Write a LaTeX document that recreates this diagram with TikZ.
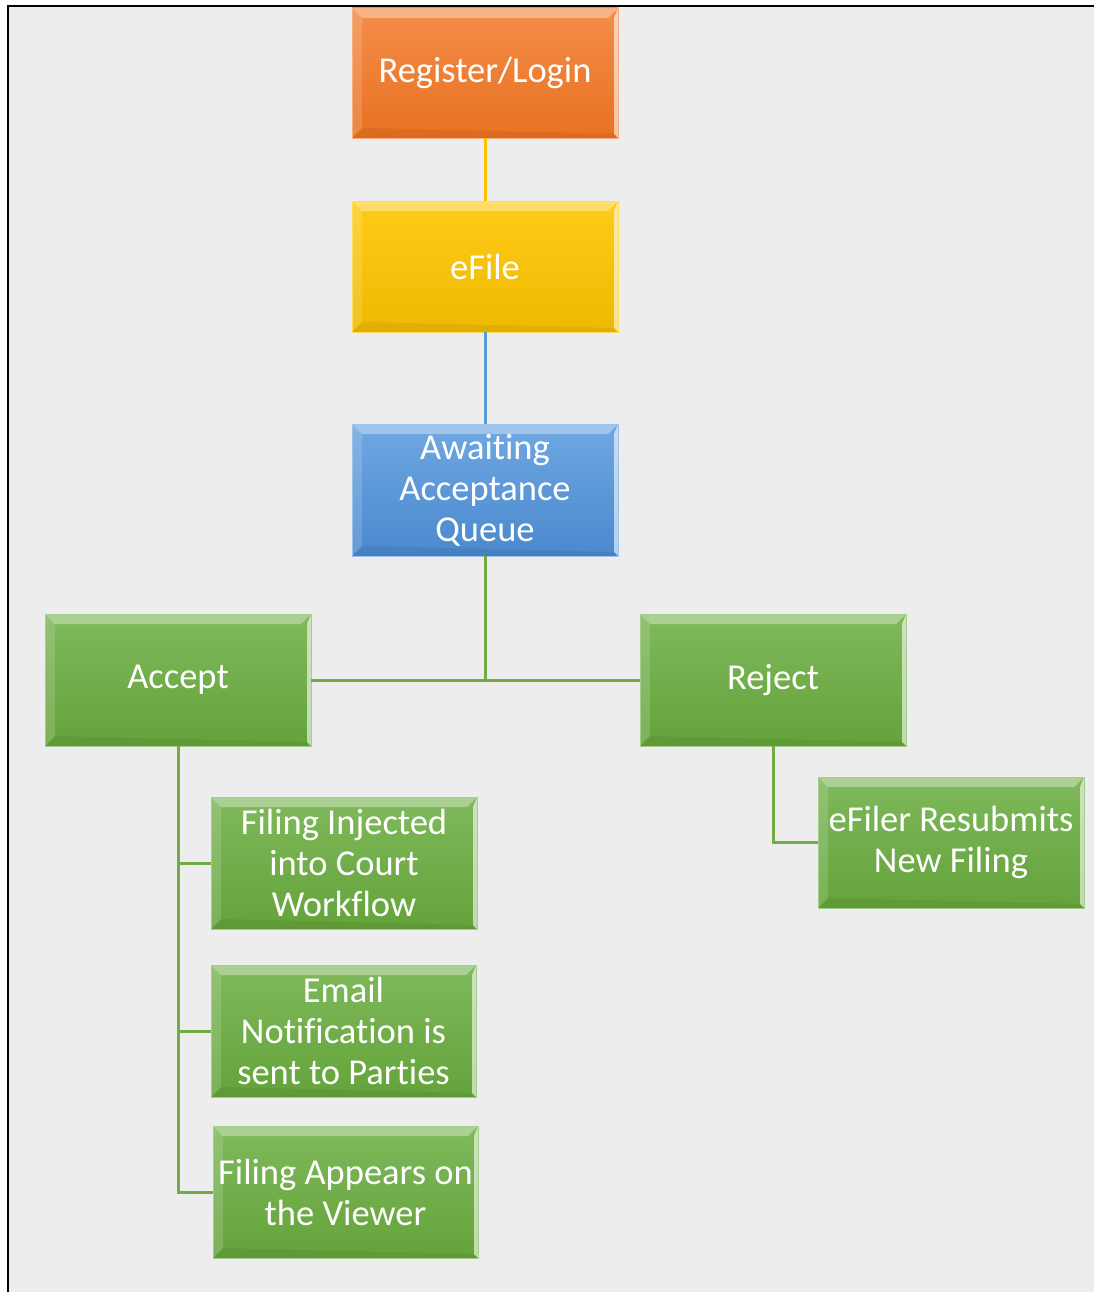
\documentclass[tikz,border=0pt]{standalone}
\usepackage{fontspec}
\setmainfont[Ligatures={NoCommon}]{Carlito}
\usetikzlibrary{calc}
\definecolor{bgc}{HTML}{EDEDED}
\definecolor{orT}{HTML}{F38D4A}\definecolor{orB}{HTML}{E97121}
\definecolor{yeT}{HTML}{FFCB1A}\definecolor{yeB}{HTML}{EDB900}
\definecolor{blT}{HTML}{6FA8E2}\definecolor{blB}{HTML}{4A89CE}
\definecolor{grT}{HTML}{7FB95C}\definecolor{grB}{HTML}{64A33A}
\definecolor{lnY}{HTML}{FFC000}\definecolor{lnB}{HTML}{5B9BD5}\definecolor{lnG}{HTML}{70AD47}
\tikzset{
  bev/.style={minimum width=266pt, minimum height=131pt, inner sep=0pt, text=white,
    align=center, font=\fontsize{36.5}{41}\selectfont,
    path picture={
      \coordinate (nw) at (path picture bounding box.north west);
      \coordinate (ne) at (path picture bounding box.north east);
      \coordinate (sw) at (path picture bounding box.south west);
      \coordinate (se) at (path picture bounding box.south east);
      \fill[white,opacity=.35] (nw) -- (ne) -- ([xshift=-10pt,yshift=-10pt]ne) -- ([xshift=10pt,yshift=-10pt]nw) -- cycle;
      \fill[white,opacity=.15] (nw) -- ([xshift=10pt,yshift=-10pt]nw) -- ([xshift=10pt,yshift=10pt]sw) -- (sw) -- cycle;
      \fill[black,opacity=.06] (sw) -- (se) -- ([xshift=-4pt,yshift=4pt]se) -- ([xshift=10pt,yshift=10pt]sw) -- cycle;
      \fill[white,opacity=.6] (ne) -- (se) -- ([xshift=-4pt,yshift=4pt]se) -- ([xshift=-4pt,yshift=-10pt]ne) -- cycle;
    }},
  orbox/.style={bev, top color=orT, bottom color=orB, draw=orT!70!white, line width=0.6pt},
  yebox/.style={bev, top color=yeT, bottom color=yeB, draw=yeT!70!white, line width=0.6pt},
  blbox/.style={bev, top color=blT, bottom color=blB, draw=blT!70!white, line width=0.6pt},
  grbox/.style={bev, top color=grT, bottom color=grB, draw=grT!70!white, line width=0.6pt},
  conn/.style={line width=3pt},
}
\begin{document}
\begin{tikzpicture}[x=1pt,y=-1pt]
\useasboundingbox (0,0) rectangle (1094,1292);
\fill[bgc] (8,6) rectangle (1094,1292);
\draw[line width=2pt, black] (8,1292) -- (8,6) -- (1094,6);

\node[orbox, minimum height=130pt] (reg) at (485,73) {Register/Login};
\node[yebox] (efile) at (485,266.5) {eFile};
\node[blbox, minimum height=132pt] (await) at (485,490) {Awaiting\\Acceptance\\Queue};
\node[grbox, minimum height=132pt] (accept) at (178,680) {Accept};
\node[grbox, minimum height=132pt] (reject) at (773,680) {Reject};
\node[grbox, minimum height=132pt] (inj) at (344,863) {Filing Injected\\into Court\\Workflow};
\node[grbox, minimum width=265pt, minimum height=132pt] (email) at (343.5,1031) {Email\\Notification is\\sent to Parties};
\node[grbox, minimum width=265pt, minimum height=132pt] (appear) at (345.5,1192) {Filing Appears on\\the Viewer};
\node[grbox] (resub) at (951,842.5) {eFiler Resubmits\\New Filing};

\draw[conn, lnY] (reg.south) -- (efile.north);
\draw[conn, lnB] (efile.south) -- (await.north);
\draw[conn, lnG] (await.south) -- (await.south |- accept.east);
\draw[conn, lnG] (accept.east) -- (reject.west);
\draw[conn, lnG] (accept.south) |- (appear.west);
\draw[conn, lnG] (accept.south |- inj.west) -- (inj.west);
\draw[conn, lnG] (accept.south |- email.west) -- (email.west);
\draw[conn, lnG] (reject.south) |- (resub.west);
\end{tikzpicture}
\end{document}
